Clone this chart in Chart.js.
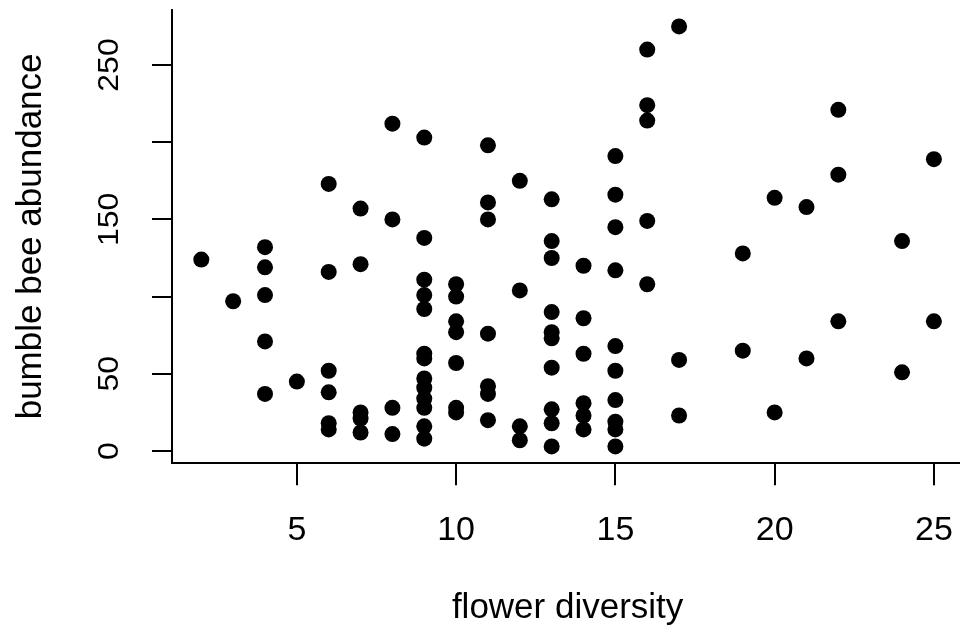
<!DOCTYPE html>
<html>
<head>
<meta charset="utf-8">
<script src="https://cdn.jsdelivr.net/npm/chart.js@4/dist/chart.umd.min.js"></script>
<style>
  html, body { margin: 0; padding: 0; background: #ffffff; overflow: hidden; }
  #wrap { width: 964px; height: 635px; }
</style>
</head>
<body>
<div id="wrap"><canvas id="c" width="964" height="635" style="width:964px;height:635px"></canvas></div>
<script>
// ---- data ----
const flowerDiversity = [
  2,
  3,
  4,4,4,4,4,
  5,
  6,6,6,6,6,6,
  7,7,7,7,7,
  8,8,8,8,
  9,9,9,9,9,9,9,9,9,9,9,9,9,
  10,10,10,10,10,10,10,
  11,11,11,11,11,11,11,
  12,12,12,12,
  13,13,13,13,13,13,13,13,13,13,
  14,14,14,14,14,14,
  15,15,15,15,15,15,15,15,15,15,
  16,16,16,16,16,
  17,17,17,
  19,19,
  20,20,
  21,21,
  22,22,22,
  24,24,
  25,25
];
const beeAbundance = [
  124,
  97,
  132,119,101,71,37,
  45,
  173,116,52,38,18,14,
  157,121,25,21,12,
  212,150,28,11,
  203,138,111,101,92,63,60,47,41,34,28,16,8,
  108,100,84,77,57,28,25,
  198,161,150,76,42,37,20,
  175,104,16,7,
  163,136,125,90,77,73,54,27,18,3,
  120,86,63,31,23,14,
  191,166,145,117,68,52,33,19,14,3,
  260,224,214,149,108,
  275,59,23,
  128,65,
  164,25,
  158,60,
  221,179,84,
  136,51,
  189,84
];
const xTicks = [5, 10, 15, 20, 25];
const yTicks = [0, 50, 100, 150, 200, 250];
const yTickLabels = ["0", "50", "", "150", "", "250"];
const xTitle = "flower diversity";
const yTitle = "bumble bee abundance";

const points = flowerDiversity.map((x, i) => ({ x: x, y: beeAbundance[i] }));

// R-style 4% range extension
const xMin = Math.min(...flowerDiversity), xMax = Math.max(...flowerDiversity);
const yMin = Math.min(...beeAbundance), yMax = Math.max(...beeAbundance);
const xPad = (xMax - xMin) * 0.04, yPad = (yMax - yMin) * 0.04;

const FONT = '"Liberation Sans", Arial, Helvetica, sans-serif';

const textPlugin = {
  id: 'rtext',
  afterDraw(chart) {
    const ctx = chart.ctx;
    const xs = chart.scales.x, ys = chart.scales.y;
    const area = chart.chartArea;
    ctx.save();
    ctx.fillStyle = '#000';
    // x tick labels
    ctx.font = '34px ' + FONT;
    ctx.textAlign = 'center';
    ctx.textBaseline = 'alphabetic';
    xTicks.forEach(v => {
      ctx.fillText(String(v), xs.getPixelForValue(v), 540);
    });
    // x title
    ctx.font = '35px ' + FONT;
    ctx.fillText(xTitle, (area.left + area.right) / 2, 618);
    // y tick labels (rotated)
    yTicks.forEach((v, i) => {
      const lab = yTickLabels[i];
      if (!lab) return;
      ctx.save();
      ctx.translate(118, ys.getPixelForValue(v));
      ctx.rotate(-Math.PI / 2);
      ctx.scale(1, 0.92);
      ctx.font = '32px ' + FONT;
      ctx.textAlign = 'center';
      ctx.textBaseline = 'alphabetic';
      ctx.fillText(lab, 0, 0);
      ctx.restore();
    });
    // y title
    ctx.save();
    ctx.translate(41, (area.top + area.bottom) / 2);
    ctx.rotate(-Math.PI / 2);
    ctx.font = '35px ' + FONT;
    ctx.textAlign = 'center';
    ctx.textBaseline = 'alphabetic';
    ctx.fillText(yTitle, 0, 0);
    ctx.restore();
    ctx.restore();
  }
};

new Chart(document.getElementById('c'), {
  type: 'scatter',
  data: {
    datasets: [{
      data: points,
      backgroundColor: '#000000',
      borderWidth: 0,
      pointRadius: 8,
      pointHoverRadius: 8
    }]
  },
  options: {
    responsive: false,
    animation: false,
    devicePixelRatio: 1,
    layout: { autoPadding: false, padding: { top: 9.6, right: 0.8, left: 0, bottom: 0 } },
    plugins: { legend: { display: false }, tooltip: { enabled: false }, title: { display: false } },
    scales: {
      x: {
        type: 'linear',
        position: 'bottom',
        min: xMin - xPad,
        max: xMax + xPad,
        afterBuildTicks: s => { s.ticks = xTicks.map(v => ({ value: v })); },
        afterFit: s => { s.height = 171.8; },
        border: { display: true, color: '#000', width: 2 },
        grid: { drawOnChartArea: false, drawTicks: true, tickLength: 22, color: '#000', lineWidth: 2 },
        ticks: { display: false }
      },
      y: {
        type: 'linear',
        position: 'left',
        min: yMin - yPad,
        max: yMax + yPad,
        afterBuildTicks: s => { s.ticks = yTicks.map(v => ({ value: v })); },
        afterFit: s => { s.width = 172; },
        border: { display: true, color: '#000', width: 2 },
        grid: { drawOnChartArea: false, drawTicks: true, tickLength: 20, color: '#000', lineWidth: 2 },
        ticks: { display: false }
      }
    }
  },
  plugins: [textPlugin]
});
</script>
</body>
</html>
